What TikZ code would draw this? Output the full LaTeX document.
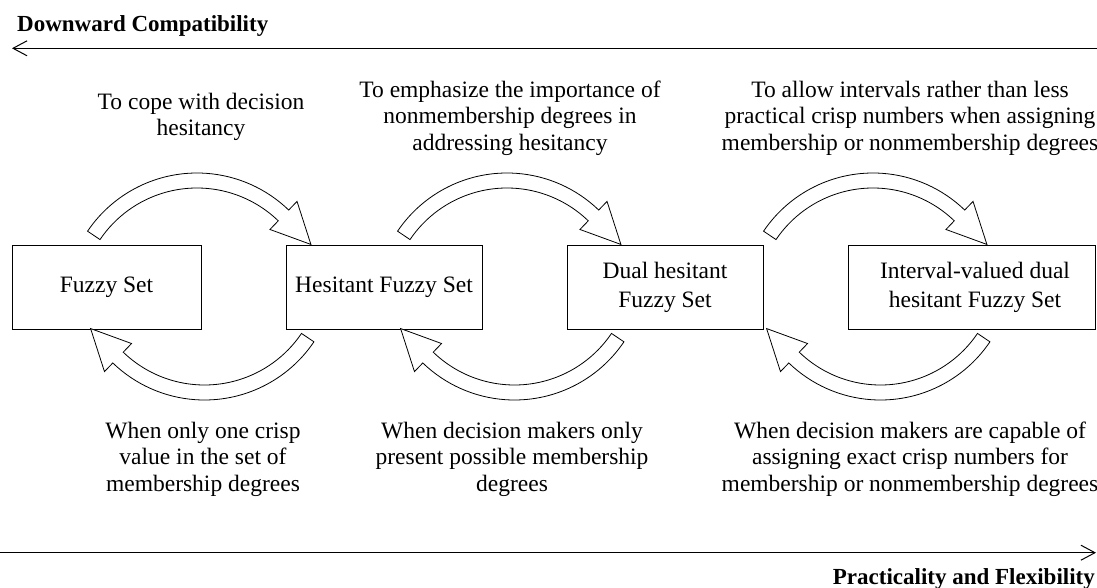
\documentclass[tikz,border=0pt]{standalone}
\usepackage{fontspec}
\setmainfont{Liberation Serif}
\usetikzlibrary{arrows.meta}
\tikzset{
  box/.style={draw, line width=1pt, minimum height=84pt, inner sep=0pt, align=center, font=\fontsize{23.5}{29}\selectfont},
  boxtext/.style={align=center, inner sep=0pt, font=\fontsize{23.5}{29}\selectfont},
  lbl/.style={align=center, inner sep=0pt, font=\fontsize{23.5}{26.5}\selectfont},
  axislbl/.style={inner sep=0pt, font=\fontsize{23}{27}\selectfont\bfseries},
  axisline/.style={line width=1.5pt, -{Straight Barb[length=14pt,width=15pt,line width=1pt]}},
  bendarrow/.style={draw, fill=white, line width=0.8pt, line join=miter},
  toparrow/.pic={
    \path[bendarrow] (146:132) arc[start angle=146,end angle=46,radius=132]
      -- (46:144) -- (28:129) -- (46:105) -- (46:117)
      arc[start angle=46,end angle=146,radius=117] -- cycle;
  }
}
\begin{document}
\begin{tikzpicture}[x=1pt,y=1pt]
\useasboundingbox (0,0) rectangle (1097,-588);

% axes
\coordinate (dcR) at (1097,-48.3);
\coordinate (dcL) at (12,-48.3);
\draw[axisline] (dcR) -- (dcL);
\node[axislbl, anchor=base west] (dct) at (17,-32) {Downward Compatibility};

\coordinate (pfL) at (0,-552.7);
\coordinate (pfR) at (1096,-552.7);
\draw[axisline] (pfL) -- (pfR);
\node[axislbl, anchor=base east] (pft) at (1095,-584) {Practicality and Flexibility};

% boxes
\node[box, minimum width=189pt] (fs) at (106.5,-287) {Fuzzy Set};
\node[box, minimum width=196pt] (hfs) at (384,-287) {Hesitant Fuzzy Set};
\node[box, minimum width=196pt] (dhfs) at (665,-287) {Dual hesitant\\Fuzzy Set};
\node[box, minimum width=247pt] (ivd) at (971.5,-287) {};
\node[boxtext] (ivdt) at (975,-287) {Interval-valued dual\\hesitant Fuzzy Set};

% curved block arrows
\pic at (197,-305) {toparrow};
\pic[rotate=180] at (204.5,-268) {toparrow};
\pic at (507,-305) {toparrow};
\pic[rotate=180] at (514.5,-268) {toparrow};
\pic at (873,-305) {toparrow};
\pic[rotate=180] at (880.5,-268) {toparrow};

% labels
\node[lbl] (t1) at (201,-117) {To cope with decision\\hesitancy};
\node[lbl] (t2) at (510,-118) {To emphasize the importance of\\nonmembership degrees in\\addressing hesitancy};
\node[lbl] (t3) at (910,-118) {To allow intervals rather than less\\practical crisp numbers when assigning\\membership or nonmembership degrees};
\node[lbl] (b1) at (203,-459) {When only one crisp\\value in the set of\\membership degrees};
\node[lbl] (b2) at (512,-459) {When decision makers only\\present possible membership\\degrees};
\node[lbl] (b3) at (910,-459) {When decision makers are capable of\\assigning exact crisp numbers for\\membership or nonmembership degrees};
\end{tikzpicture}
\end{document}
